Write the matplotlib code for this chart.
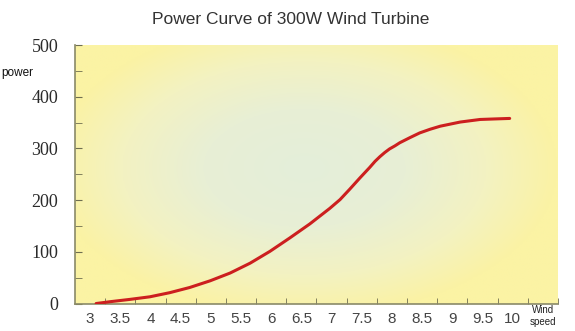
import numpy as np
import matplotlib.pyplot as plt
from matplotlib.colors import LinearSegmentedColormap

# values
wind = [3.1, 3.33, 3.66, 3.99, 4.32, 4.65, 4.99, 5.32, 5.65, 5.98, 6.31, 6.64,
        6.97, 7.14, 7.3, 7.47, 7.63, 7.72, 7.8, 7.88, 7.96, 8.05, 8.13, 8.3,
        8.46, 8.63, 8.8, 9.13, 9.46, 9.7, 9.95]
power = [0, 3.5, 8, 13, 21, 31, 44, 59, 78, 101, 127, 154,
         184, 201, 221, 243, 263, 275, 284, 292, 299, 305, 311, 321,
         330, 337, 343, 351, 356, 357, 358]
xlabels = ['3', '3.5', '4', '4.5', '5', '5.5', '6', '6.5', '7', '7.5', '8',
           '8.5', '9', '9.5', '10']
yticks = [0, 100, 200, 300, 400, 500]

fig = plt.figure(figsize=(5.75, 3.31), dpi=100)
ax = fig.add_axes([0.1304, 0.0830, 0.84, 0.7810])

# yellow background, pale green-ish in the middle
gx, gy = np.meshgrid(np.linspace(-1, 1, 300), np.linspace(-1, 1, 200))
r = np.clip(np.sqrt(((gx + 0.05) / 1.05) ** 2 + ((gy + 0.05) / 1.15) ** 2), 0, 1)
cmap = LinearSegmentedColormap.from_list(
    'bg', [(0, '#e4eeda'), (0.4, '#e8efd5'), (0.72, '#f3f2c2'), (1, '#fbf3a4')])
ax.imshow(r, cmap=cmap, extent=[0, 1, 0, 1], transform=ax.transAxes,
          aspect='auto', zorder=0, vmin=0, vmax=1)

ax.plot(wind, power, color='#cc1f1f', lw=2.2, solid_capstyle='round',
        solid_joinstyle='round', zorder=3)

ax.set_xlim(2.75, 10.75)
ax.set_ylim(0, 500)

ax.set_xticks([3 + 0.5 * i for i in range(len(xlabels))])
ax.set_xticklabels(xlabels)
ax.set_xticks([2.75 + 0.5 * i for i in range(1, 17)], minor=True)
ax.tick_params(axis='x', which='major', length=0, pad=6, labelsize=11, labelcolor='#444444')
ax.tick_params(axis='x', which='minor', direction='in', length=4, color='#6e6e50')
for lbl in ax.get_xticklabels():
    lbl.set_fontfamily('Liberation Sans')
ax.text(10.5, -0.048, 'Wind\nspeed', transform=ax.get_xaxis_transform(),
        ha='center', va='center', fontsize=7, color='#222222',
        family='Liberation Sans', linespacing=1.15)

ax.set_yticks(yticks)
ax.set_yticks([50, 150, 250, 350, 450], minor=True)
ax.tick_params(axis='y', which='both', direction='in', length=5, color='#6e6e50')
ax.tick_params(axis='y', which='major', pad=12, labelsize=13, labelcolor='#2a2a2a')
for lbl in ax.get_yticklabels():
    lbl.set_fontfamily('Liberation Serif')

for s in ['top', 'right']:
    ax.spines[s].set_visible(False)
for s in ['left', 'bottom']:
    ax.spines[s].set_color('#8a8a68')
    ax.spines[s].set_linewidth(1.2)

fig.text(0.505, 0.94, 'Power Curve of 300W Wind Turbine', ha='center', va='center',
         fontsize=12.5, color='#333333', family='Liberation Sans')
fig.text(0.003, 0.78, 'power', ha='left', va='center', fontsize=8.5,
         color='#111111', family='Liberation Sans')

fig.savefig('out.png', dpi=100)
